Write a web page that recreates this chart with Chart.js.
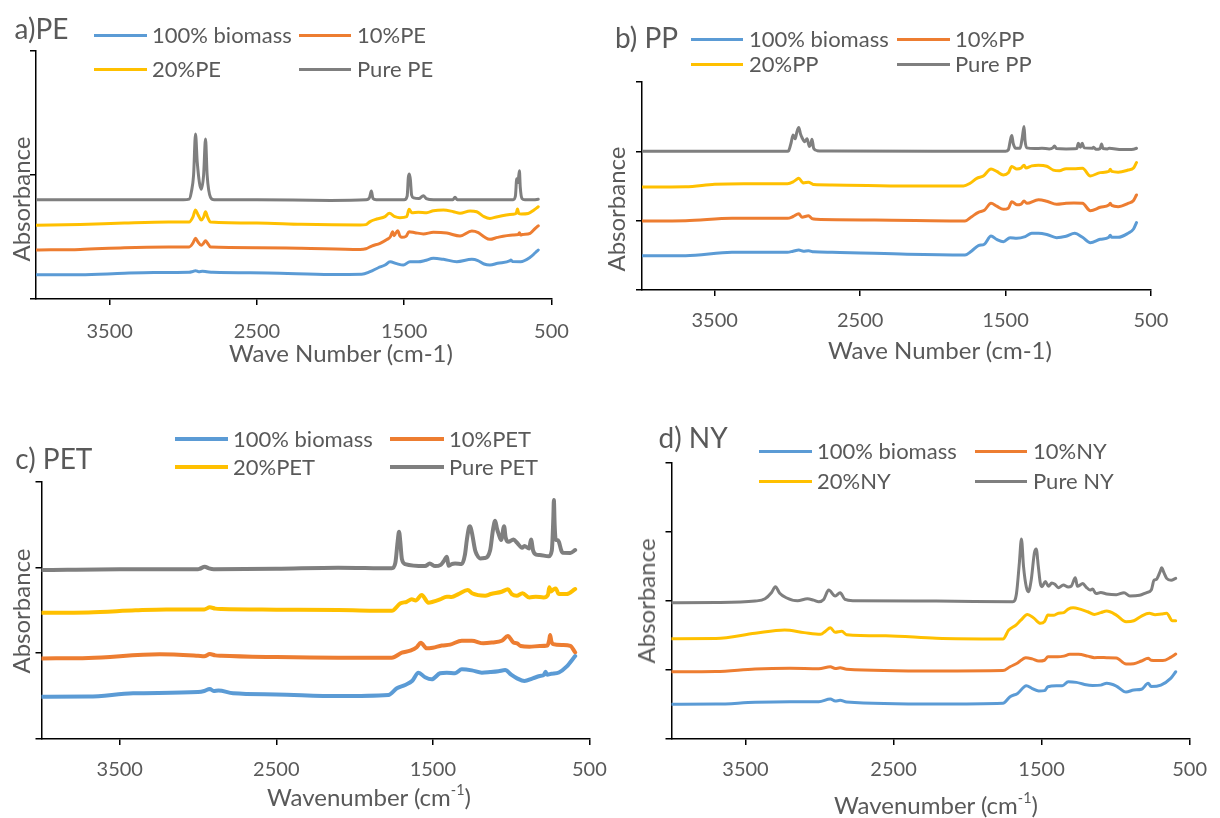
<!DOCTYPE html>
<html><head><meta charset="utf-8">
<script src="https://cdn.jsdelivr.net/npm/chart.js@4.4.1/dist/chart.umd.min.js"></script>
<style>
html,body{margin:0;padding:0;background:#fff;}
#wrap{position:relative;width:1220px;height:818px;overflow:hidden;font-family:Lato,'Open Sans',sans-serif;color:#595959;}
canvas{position:absolute;left:0;top:0;}
.t{position:absolute;white-space:nowrap;line-height:1;}
.sw{position:absolute;}
sup{font-size:0.6em;line-height:0;vertical-align:0.75em;}
</style></head><body><div id="wrap"></div>
<script>
// ---------------- DATA ([wavenumber cm-1, absorbance offset units]) ----------------
const xTickLabels = ['3500', '2500', '1500', '500'];
const colors = ['#5B9BD5', '#ED7D31', '#FFC000', '#7F7F7F'];

// a) PE
const peNames = ['100% biomass', '10%PE', '20%PE', 'Pure PE'];
const peBiomass = [[4000,0.196],[3700,0.196],[3400,0.208],[3200,0.213],[2960,0.215],[2935,0.222],[2917,0.228],[2895,0.22],[2870,0.224],[2840,0.22],[2800,0.215],[2426,0.21],[2000,0.197],[1789,0.199],[1732,0.22],[1676,0.252],[1630,0.274],[1596,0.301],[1551,0.285],[1506,0.274],[1461,0.301],[1404,0.30],[1359,0.31],[1302,0.328],[1234,0.32],[1143,0.301],[1041,0.32],[1000,0.31],[958,0.282],[918,0.274],[866,0.288],[780,0.31],[775,0.315],[765,0.302],[710,0.301],[645,0.336],[610,0.373],[590,0.395]];
const pe10 = [[4000,0.395],[3700,0.40],[3400,0.414],[3100,0.419],[2960,0.42],[2935,0.45],[2917,0.489],[2900,0.46],[2878,0.433],[2862,0.45],[2849,0.47],[2835,0.45],[2815,0.419],[2500,0.414],[2200,0.41],[1800,0.40],[1760,0.405],[1721,0.427],[1664,0.449],[1615,0.481],[1595,0.50],[1578,0.543],[1570,0.51],[1563,0.52],[1544,0.551],[1530,0.51],[1517,0.497],[1488,0.505],[1467,0.543],[1427,0.535],[1370,0.525],[1302,0.538],[1211,0.532],[1121,0.508],[1041,0.548],[997,0.535],[958,0.502],[918,0.481],[866,0.497],[762,0.516],[725,0.52],[718,0.535],[710,0.516],[697,0.52],[645,0.53],[610,0.57],[590,0.59]];
const pe20 = [[4000,0.594],[3700,0.60],[3400,0.612],[3100,0.62],[2960,0.62],[2935,0.66],[2917,0.718],[2900,0.68],[2878,0.637],[2862,0.66],[2849,0.704],[2835,0.66],[2815,0.62],[2500,0.612],[2200,0.602],[1800,0.597],[1760,0.60],[1732,0.624],[1687,0.645],[1630,0.664],[1601,0.691],[1563,0.664],[1529,0.656],[1483,0.664],[1467,0.723],[1449,0.696],[1404,0.70],[1347,0.696],[1302,0.712],[1234,0.718],[1166,0.704],[1121,0.691],[1053,0.71],[1008,0.704],[958,0.664],[918,0.65],[866,0.664],[762,0.683],[740,0.69],[731,0.726],[722,0.69],[705,0.686],[658,0.69],[619,0.718],[590,0.744]];
const pePure = [[4000,0.80],[3500,0.80],[3000,0.80],[2960,0.805],[2945,0.865],[2930,1.0],[2917,1.33],[2905,1.1],[2878,0.885],[2862,1.0],[2849,1.29],[2838,1.0],[2815,0.82],[2790,0.80],[2500,0.80],[2000,0.795],[1760,0.80],[1735,0.82],[1723,0.87],[1712,0.81],[1690,0.80],[1500,0.80],[1480,0.83],[1472,0.98],[1465,1.008],[1458,0.96],[1450,0.84],[1435,0.815],[1400,0.81],[1370,0.833],[1350,0.81],[1300,0.80],[1170,0.80],[1155,0.82],[1140,0.80],[900,0.80],[760,0.80],[745,0.83],[736,0.97],[728,0.94],[718,1.035],[712,0.90],[700,0.81],[680,0.80],[620,0.80],[590,0.805]];

// b) PP
const ppNames = ['100% biomass', '10%PP', '20%PP', 'Pure PP'];
const ppBiomass = [[4000,0.495],[3700,0.495],[3381,0.544],[3000,0.544],[2961,0.56],[2922,0.577],[2890,0.56],[2855,0.566],[2819,0.55],[2693,0.545],[2177,0.515],[1779,0.505],[1733,0.563],[1687,0.64],[1646,0.66],[1600,0.779],[1561,0.73],[1515,0.697],[1469,0.755],[1423,0.745],[1365,0.77],[1320,0.818],[1274,0.818],[1217,0.80],[1149,0.755],[1084,0.775],[1025,0.818],[971,0.76],[917,0.683],[849,0.731],[790,0.76],[780,0.79],[770,0.76],[726,0.76],[658,0.818],[620,0.88],[600,0.971]];
const pp10 = [[4000,0.996],[3700,1.0],[3381,1.034],[3000,1.034],[2961,1.06],[2922,1.10],[2900,1.05],[2855,1.07],[2831,1.03],[2800,1.02],[2400,1.01],[1779,0.996],[1733,1.058],[1687,1.12],[1646,1.15],[1600,1.25],[1561,1.21],[1515,1.164],[1481,1.18],[1457,1.274],[1423,1.23],[1393,1.24],[1373,1.284],[1354,1.25],[1274,1.30],[1217,1.28],[1149,1.237],[1084,1.25],[1030,1.255],[971,1.25],[917,1.144],[849,1.193],[790,1.225],[780,1.25],[770,1.22],[726,1.202],[658,1.25],[620,1.29],[600,1.371]];
const pp20 = [[4000,1.486],[3700,1.49],[3500,1.525],[3300,1.534],[3000,1.534],[2961,1.56],[2940,1.59],[2922,1.612],[2900,1.56],[2890,1.545],[2855,1.553],[2830,1.53],[2819,1.52],[2693,1.515],[2177,1.50],[1790,1.50],[1744,1.54],[1698,1.61],[1653,1.645],[1600,1.746],[1561,1.71],[1515,1.66],[1481,1.69],[1457,1.78],[1423,1.745],[1393,1.76],[1373,1.80],[1360,1.76],[1320,1.79],[1274,1.80],[1217,1.785],[1172,1.73],[1130,1.72],[1084,1.75],[1030,1.75],[971,1.756],[917,1.645],[849,1.693],[790,1.71],[780,1.74],[770,1.71],[726,1.70],[658,1.73],[620,1.76],[600,1.837]];
const ppPure = [[4000,2.0],[3500,2.0],[3000,2.0],[2991,2.01],[2975,2.12],[2961,2.237],[2946,2.18],[2935,2.28],[2922,2.342],[2910,2.25],[2900,2.2],[2881,2.14],[2865,2.18],[2849,2.068],[2840,2.1],[2831,2.175],[2819,2.04],[2796,2.01],[2700,2.005],[2000,2.0],[1500,2.0],[1481,2.02],[1465,2.18],[1457,2.227],[1448,2.12],[1430,2.045],[1400,2.045],[1385,2.2],[1373,2.357],[1366,2.15],[1354,2.05],[1300,2.04],[1250,2.045],[1200,2.035],[1175,2.05],[1164,2.078],[1150,2.04],[1084,2.035],[1010,2.04],[1000,2.117],[985,2.06],[973,2.117],[960,2.05],[900,2.045],[895,2.06],[880,2.03],[850,2.04],[840,2.107],[830,2.04],[800,2.035],[788,2.045],[700,2.025],[620,2.03],[600,2.045]];

// c) PET
const petNames = ['100% biomass', '10%PET', '20%PET', 'Pure PET'];
const petBiomass = [[4000,0.493],[3700,0.495],[3415,0.533],[3000,0.548],[2960,0.56],[2925,0.583],[2900,0.56],[2870,0.565],[2776,0.533],[2500,0.52],[2105,0.501],[1784,0.513],[1730,0.591],[1677,0.63],[1631,0.68],[1592,0.773],[1550,0.72],[1507,0.696],[1454,0.766],[1411,0.773],[1358,0.766],[1315,0.812],[1251,0.80],[1187,0.773],[1134,0.78],[1081,0.79],[1038,0.804],[1000,0.75],[962,0.707],[915,0.676],[862,0.707],[817,0.734],[790,0.75],[780,0.784],[770,0.75],[743,0.76],[695,0.775],[646,0.843],[591,0.967]];
const pet10 = [[4000,0.94],[3700,0.945],[3245,0.987],[3000,0.97],[2960,0.965],[2925,0.99],[2890,0.975],[2850,0.97],[2500,0.955],[2105,0.948],[1762,0.948],[1698,1.006],[1645,1.03],[1603,1.07],[1577,1.122],[1539,1.057],[1500,1.065],[1443,1.09],[1390,1.10],[1315,1.146],[1251,1.146],[1177,1.115],[1120,1.125],[1060,1.145],[1021,1.20],[985,1.125],[962,1.115],[939,1.084],[883,1.076],[817,1.084],[768,1.09],[757,1.15],[751,1.212],[743,1.14],[732,1.107],[670,1.096],[622,1.085],[591,1.01]];
const pet20 = [[4000,1.472],[3700,1.475],[3400,1.50],[3203,1.511],[2960,1.511],[2925,1.535],[2890,1.52],[2850,1.515],[2500,1.508],[2105,1.503],[1762,1.495],[1709,1.58],[1667,1.60],[1635,1.628],[1610,1.615],[1571,1.678],[1528,1.59],[1500,1.60],[1454,1.628],[1411,1.66],[1380,1.655],[1337,1.69],[1277,1.737],[1250,1.70],[1166,1.67],[1130,1.69],[1060,1.717],[1021,1.745],[996,1.69],[964,1.67],[927,1.698],[883,1.651],[842,1.66],[793,1.65],[765,1.68],[756,1.768],[745,1.72],[732,1.74],[715,1.756],[700,1.70],[690,1.69],[646,1.69],[591,1.748]];
const petPure = [[4000,1.97],[3500,1.98],[3000,1.98],[2989,1.985],[2957,2.008],[2930,1.99],[2900,1.98],[2500,1.985],[2105,1.997],[1762,1.99],[1740,2.05],[1725,2.3],[1716,2.416],[1708,2.3],[1698,2.1],[1677,2.04],[1550,2.016],[1520,2.045],[1486,2.016],[1450,2.03],[1433,2.066],[1410,2.125],[1400,2.02],[1380,2.04],[1358,2.045],[1315,2.04],[1295,2.15],[1283,2.32],[1270,2.46],[1262,2.48],[1250,2.40],[1230,2.2],[1219,2.15],[1198,2.106],[1170,2.11],[1134,2.2],[1115,2.45],[1102,2.544],[1090,2.45],[1081,2.397],[1064,2.319],[1045,2.48],[1035,2.35],[1017,2.30],[985,2.327],[962,2.288],[930,2.23],[915,2.25],[885,2.22],[873,2.327],[860,2.2],[840,2.15],[817,2.145],[760,2.13],[740,2.2],[730,2.6],[727,2.786],[722,2.5],[715,2.32],[705,2.32],[695,2.30],[680,2.2],[670,2.171],[622,2.17],[591,2.203]];

// d) NY
const nyNames = ['100% biomass', '10%NY', '20%NY', 'Pure NY'];
const nyBiomass = [[4000,0.502],[3700,0.505],[3435,0.531],[3200,0.54],[3005,0.54],[2927,0.579],[2894,0.55],[2861,0.56],[2817,0.535],[2211,0.506],[1761,0.517],[1713,0.612],[1662,0.66],[1603,0.771],[1563,0.73],[1519,0.695],[1480,0.70],[1457,0.757],[1400,0.77],[1360,0.77],[1320,0.829],[1265,0.82],[1210,0.79],[1155,0.775],[1100,0.78],[1060,0.806],[995,0.767],[929,0.68],[877,0.709],[825,0.72],[780,0.806],[760,0.76],[694,0.781],[628,0.878],[594,0.974]];
const ny10 = [[4000,0.974],[3700,0.978],[3435,1.013],[3200,1.023],[3005,1.018],[2927,1.046],[2894,1.02],[2861,1.03],[2817,1.01],[2211,0.984],[1761,0.99],[1713,1.046],[1662,1.10],[1607,1.177],[1563,1.16],[1519,1.129],[1480,1.14],[1457,1.191],[1390,1.19],[1350,1.20],[1309,1.226],[1250,1.226],[1188,1.20],[1144,1.177],[1100,1.18],[1060,1.177],[995,1.174],[929,1.085],[877,1.09],[825,1.129],[780,1.168],[760,1.14],[681,1.135],[628,1.182],[594,1.23]];
const ny20 = [[4000,1.452],[3700,1.455],[3435,1.53],[3236,1.577],[3104,1.54],[2993,1.515],[2960,1.56],[2927,1.611],[2895,1.545],[2850,1.56],[2817,1.51],[2553,1.495],[2211,1.457],[1761,1.447],[1722,1.577],[1673,1.65],[1640,1.72],[1596,1.804],[1552,1.75],[1508,1.674],[1480,1.70],[1457,1.794],[1420,1.79],[1386,1.82],[1350,1.83],[1320,1.881],[1287,1.90],[1240,1.88],[1188,1.842],[1144,1.804],[1100,1.83],[1060,1.852],[995,1.794],[929,1.698],[877,1.712],[825,1.78],[772,1.819],[733,1.80],[690,1.81],[655,1.819],[616,1.712],[594,1.712]];
const nyPure = [[4000,1.973],[3700,1.975],[3435,1.997],[3368,2.03],[3324,2.12],[3298,2.204],[3269,2.11],[3225,2.045],[3148,2.001],[3082,2.03],[3040,2.01],[3005,1.987],[2972,2.02],[2938,2.156],[2894,2.07],[2861,2.117],[2828,2.02],[2773,2.001],[2211,1.997],[1695,1.987],[1670,2.1],[1650,2.55],[1636,2.894],[1622,2.5],[1603,2.2],[1589,2.132],[1570,2.3],[1548,2.70],[1536,2.75],[1522,2.5],[1508,2.25],[1497,2.204],[1475,2.28],[1453,2.21],[1431,2.26],[1410,2.24],[1386,2.19],[1353,2.23],[1320,2.2],[1300,2.21],[1272,2.334],[1258,2.21],[1221,2.25],[1199,2.2],[1173,2.156],[1155,2.17],[1133,2.105],[1100,2.12],[1060,2.10],[995,2.09],[943,2.117],[903,2.07],[838,2.08],[790,2.12],[759,2.156],[740,2.30],[725,2.31],[700,2.42],[689,2.479],[672,2.4],[655,2.326],[625,2.30],[594,2.326]];

// ---------------- LAYOUT ----------------
const FONT = 'Lato';
const TXT = '#595959';
const panels = [
  { label:'a)PE', names:peNames, series:[peBiomass, pe10, pe20, pePure], yMax:2,
    area:{l:36, r:551.5, t:51, b:299}, lw:3, tickPad:15,
    lab:{x:14.5, y:28}, leg:{rows:[35,69], cols:[[94,147,152],[299,351,357]]},
    xt:{text:'Wave Number (cm-1)', x:341, y:353}, yt:{x:21, y:199} },
  { label:'b) PP', names:ppNames, series:[ppBiomass, pp10, pp20, ppPure], yMax:3,
    area:{l:642, r:1151, t:82, b:290}, lw:3, tickPad:13,
    lab:{x:615, y:37}, leg:{rows:[39,64], cols:[[691,743,749],[897,950,955]]},
    xt:{text:'Wave Number (cm-1)', x:940, y:350}, yt:{x:616, y:209} },
  { label:'c) PET', names:petNames, series:[petBiomass, pet10, pet20, petPure], yMax:3,
    area:{l:41.5, r:589.4, t:481.7, b:739}, lw:4, tickPad:13,
    lab:{x:15.3, y:458}, leg:{rows:[439,467], cols:[[175,228,233],[390,444,449]]},
    xt:{html:'Wavenumber (cm<sup>-1</sup>)', x:369, y:797}, yt:{x:21, y:611} },
  { label:'d) NY', names:nyNames, series:[nyBiomass, ny10, ny20, nyPure], yMax:4,
    area:{l:671.5, r:1200.6, t:462.7, b:739}, lw:3, tickPad:13,
    lab:{x:658.5, y:437}, leg:{rows:[451,481], cols:[[759,812,817],[975,1027,1033]]},
    xt:{html:'Wavenumber (cm<sup>-1</sup>)', x:936, y:805}, yt:{x:645.5, y:601} }
];

const W = 1220, H = 818, Y_W = 6, X_H = 50;
const wrap = document.getElementById('wrap');
const xTickValues = xTickLabels.map(Number);

function addText(html, x, y, size, opts) {
  const d = document.createElement('div');
  d.className = 't';
  d.innerHTML = html;
  d.style.left = x + 'px';
  d.style.top = y + 'px';
  d.style.fontSize = size + 'px';
  let tf = 'translateY(-50%)';
  if (opts === 'center') tf = 'translate(-50%,-50%)';
  if (opts === 'rot') tf = 'translate(-50%,-50%) rotate(-90deg)';
  d.style.transform = tf;
  wrap.appendChild(d);
}

panels.forEach(p => {
  const cv = document.createElement('canvas');
  cv.width = W; cv.height = H;
  wrap.appendChild(cv);
  new Chart(cv, {
    type: 'line',
    data: {
      datasets: p.series.map((s, i) => ({
        label: p.names[i],
        data: s.map(([x, y]) => ({x, y})),
        borderColor: colors[i],
        backgroundColor: colors[i],
        borderWidth: p.lw,
        pointRadius: 0,
        fill: false,
        cubicInterpolationMode: 'monotone',
        borderJoinStyle: 'round',
        borderCapStyle: 'round'
      }))
    },
    options: {
      responsive: false, animation: false, devicePixelRatio: 1,
      layout: { padding: { left: p.area.l - Y_W, right: W - p.area.r, top: p.area.t, bottom: H - p.area.b - X_H } },
      plugins: { legend: { display: false }, tooltip: { enabled: false }, title: { display: false } },
      scales: {
        x: {
          type: 'linear', reverse: true, min: 500, max: 4000,
          afterBuildTicks: s => { s.ticks = xTickValues.map(v => ({value: v})); },
          afterFit: s => { s.height = X_H; },
          ticks: { autoSkip: false, maxRotation: 0, padding: p.tickPad, color: TXT,
                   font: { family: FONT, size: 20 }, callback: (v, i) => xTickLabels[i] },
          grid: { drawOnChartArea: false, drawTicks: true, tickLength: 6, color: '#000', lineWidth: 1.5 },
          border: { display: true, color: '#000', width: 1.5 }
        },
        y: {
          type: 'linear', min: 0, max: p.yMax,
          ticks: { display: false, stepSize: 1 },
          afterFit: s => { s.width = Y_W; },
          grid: { drawOnChartArea: false, drawTicks: true, tickLength: 6, color: '#000', lineWidth: 1.5 },
          border: { display: true, color: '#000', width: 1.5 }
        }
      }
    }
  });

  // panel label
  addText(p.label, p.lab.x, p.lab.y, 28);
  // legend (2 x 2)
  p.names.forEach((n, i) => {
    const row = Math.floor(i / 2), col = i % 2;
    const y = p.leg.rows[row];
    const [x1, x2, tx] = p.leg.cols[col];
    const sw = document.createElement('div');
    sw.className = 'sw';
    sw.style.left = x1 + 'px';
    sw.style.width = (x2 - x1) + 'px';
    sw.style.top = (y - p.lw / 2) + 'px';
    sw.style.height = p.lw + 'px';
    sw.style.background = colors[i];
    wrap.appendChild(sw);
    addText(n, tx, y, 22);
  });
  // axis titles
  addText(p.xt.html || p.xt.text, p.xt.x, p.xt.y, 24, 'center');
  addText('Absorbance', p.yt.x, p.yt.y, 24, 'rot');
});
</script></body></html>
